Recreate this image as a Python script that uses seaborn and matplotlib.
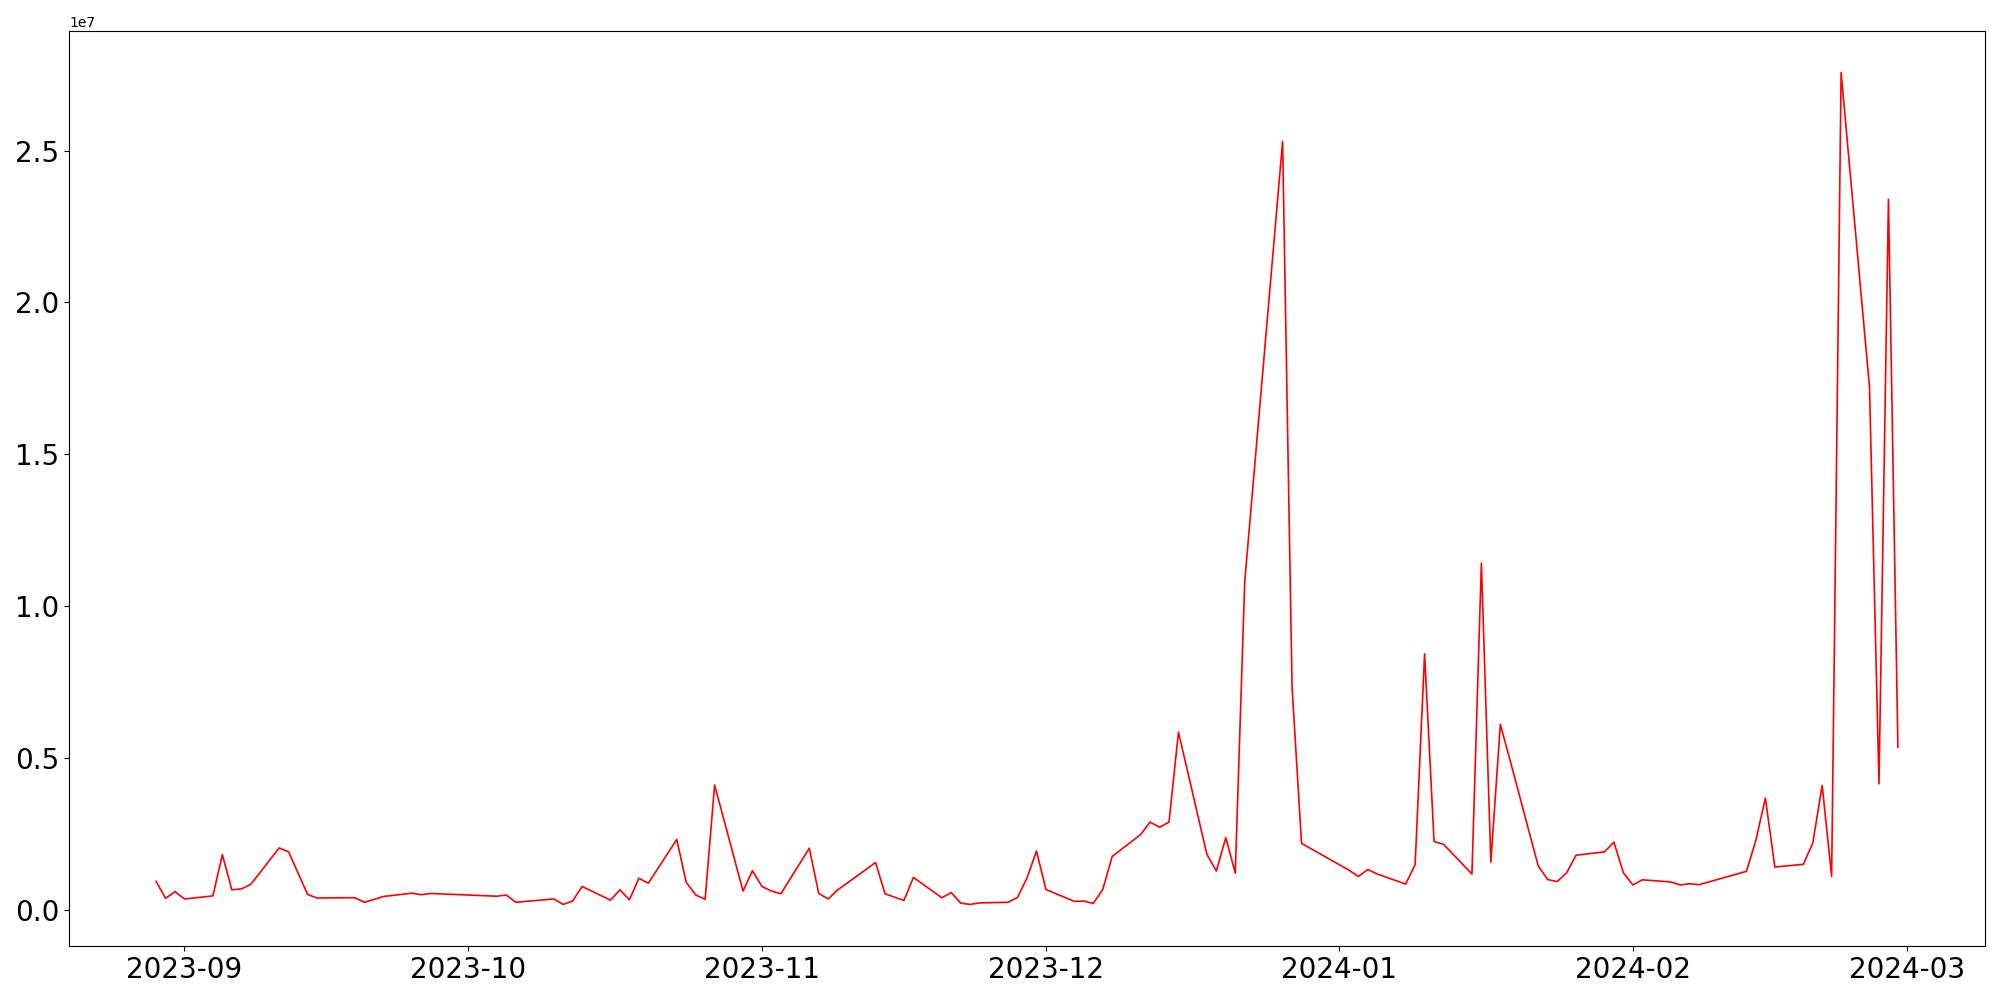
import matplotlib
matplotlib.use('Agg')
import matplotlib.pyplot as plt
import numpy as np
import pandas as pd
import seaborn as sns

# trading days (KRX calendar) from 2023-08-29 to 2024-02-29
start_date = '2023-08-29'
end_date = '2024-02-29'
krx_holidays = ['2023-09-28', '2023-09-29', '2023-10-02', '2023-10-03',
                '2023-10-09', '2023-12-25', '2023-12-29', '2024-01-01',
                '2024-02-09', '2024-02-12']

# daily values, in millions, one list per month
vol_aug = [0.94, 0.38, 0.60]
vol_sep = [0.36, 0.46, 1.82, 0.66, 0.69, 0.84, 2.04, 1.91, 1.21, 0.51,
           0.39, 0.40, 0.40, 0.25, 0.34, 0.44, 0.55, 0.50, 0.54]
vol_oct = [0.45, 0.49, 0.25, 0.36, 0.18, 0.29, 0.77, 0.32, 0.66, 0.33,
           1.04, 0.88, 2.32, 0.91, 0.49, 0.35, 4.11, 0.62, 1.29]
vol_nov = [0.77, 0.62, 0.53, 2.03, 0.54, 0.36, 0.66, 0.88, 1.56, 0.53,
           0.42, 0.31, 1.07, 0.40, 0.57, 0.22, 0.18, 0.23, 0.25, 0.41,
           1.05, 1.94]
vol_dec = [0.67, 0.28, 0.29, 0.21, 0.67, 1.76, 2.48, 2.89, 2.72, 2.89,
           5.85, 1.83, 1.28, 2.38, 1.21, 10.81, 25.30, 7.34, 2.19]
vol_jan = [1.31, 1.10, 1.33, 1.18, 0.85, 1.49, 8.43, 2.25, 2.16, 1.18,
           11.42, 1.57, 6.11, 4.96, 1.45, 1.00, 0.93, 1.22, 1.80, 1.91,
           2.23, 1.22]
vol_feb = [0.82, 0.99, 0.92, 0.82, 0.86, 0.83, 1.27, 2.30, 3.68, 1.41,
           1.50, 2.19, 4.10, 1.10, 27.57, 17.20, 4.15, 23.40, 5.35]

dates = pd.bdate_range(start_date, end_date, freq='C', holidays=krx_holidays)
values = np.array(vol_aug + vol_sep + vol_oct + vol_nov + vol_dec + vol_jan + vol_feb) * 1e6

df = pd.DataFrame({'date': dates, 'volume': values})

fig, ax = plt.subplots(figsize=(20, 10), dpi=100)
sns.lineplot(data=df, x='date', y='volume', color='red', linewidth=1.2, ax=ax)

ax.set_xlabel('')
ax.set_ylabel('')
plt.xticks(fontsize=20)
plt.yticks(fontsize=20)

plt.subplots_adjust(left=0.0345, right=0.9925, bottom=0.054, top=0.969)
plt.savefig('out.png')
